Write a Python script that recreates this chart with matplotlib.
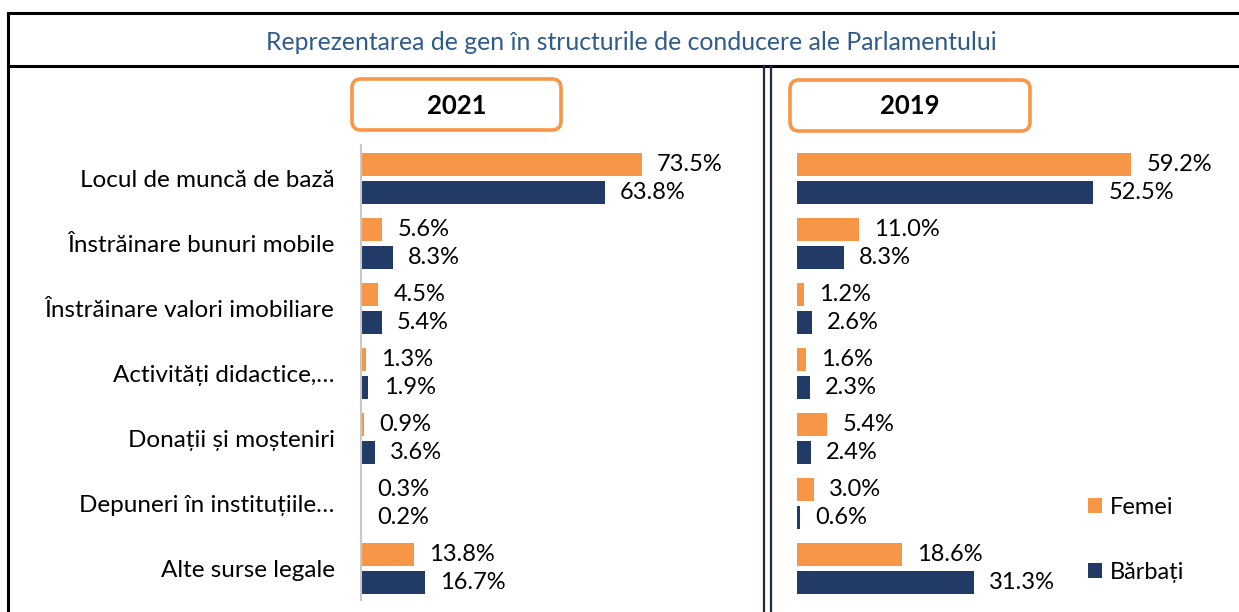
import numpy as np
import matplotlib
matplotlib.use("Agg")
import matplotlib.pyplot as plt
from matplotlib.patches import FancyBboxPatch

# -----------------------------
# Data
# -----------------------------
categories = [
    "Locul de muncă de bază",
    "Înstrăinare bunuri mobile",
    "Înstrăinare valori imobiliare",
    "Activități didactice,…",
    "Donații și moșteniri",
    "Depuneri în instituțiile…",
    "Alte surse legale",
]
femei_2021 = [73.5, 5.6, 4.5, 1.3, 0.9, 0.3, 13.8]
barbati_2021 = [63.8, 8.3, 5.4, 1.9, 3.6, 0.2, 16.7]
femei_2019 = [59.2, 11.0, 1.2, 1.6, 5.4, 3.0, 18.6]
barbati_2019 = [52.5, 8.3, 2.6, 2.3, 2.4, 0.6, 31.3]
series_names = ["Femei", "Bărbați"]
years = ["2021", "2019"]
title = "Reprezentarea de gen în structurile de conducere ale Parlamentului"

# -----------------------------
# Style
# -----------------------------
ORANGE = "#F79646"
NAVY = "#213A66"
TITLE_BLUE = "#2F5A8C"
plt.rcParams["font.family"] = ["Lato", "DejaVu Sans"]

W, H = 1239, 612
fig = plt.figure(figsize=(W / 100, H / 100), dpi=100)


def px_rect(x0, y0, x1, y1):
    # pixel box (top-left origin) -> figure fraction
    return [x0 / W, 1 - y1 / H, (x1 - x0) / W, (y1 - y0) / H]


# background axis in pixel coordinates for frame / boxes
bg = fig.add_axes([0, 0, 1, 1])
bg.set_xlim(0, W)
bg.set_ylim(H, 0)
bg.axis("off")

# outer frame and title row
bg.plot([8, W + 5], [13, 13], color="black", lw=2.2)
bg.plot([8, W + 5], [66, 66], color="black", lw=2.2)
bg.plot([8, 8], [13, H + 5], color="black", lw=2.2)
bg.plot([764, 764], [66, H + 5], color="#1F2A3C", lw=1.6)
bg.plot([771, 771], [66, H + 5], color="#1F2A3C", lw=1.6)
bg.text(631, 42, title, ha="center", va="center", fontsize=17.8, color=TITLE_BLUE)

# year boxes
for (x0, y0, x1, y1), yr in zip([(352, 79, 561, 130), (790, 80, 1030, 131)], years):
    box = FancyBboxPatch((x0, y0), x1 - x0, y1 - y0,
                         boxstyle="round,pad=0,rounding_size=9",
                         fc="white", ec=ORANGE, lw=2.6)
    bg.add_patch(box)
    bg.text((x0 + x1) / 2, (y0 + y1) / 2 + 1, yr, ha="center", va="center",
            fontsize=18.5, fontweight="bold", color="black")

# -----------------------------
# Bar panels
# -----------------------------
y = np.arange(len(categories))
bar_h = 0.354
off = 0.215

ax1 = fig.add_axes(px_rect(361, 145, 361 + 382, 600))
ax2 = fig.add_axes(px_rect(797, 145, 797 + 395, 600))

panels = [
    (ax1, femei_2021, barbati_2021, (0, 100)),
    (ax2, femei_2019, barbati_2019, (0, 70)),
]

handles = None
for ax, fem, bar, xlim in panels:
    b1 = ax.barh(y - off, fem, height=bar_h, color=ORANGE, label=series_names[0])
    b2 = ax.barh(y + off, bar, height=bar_h, color=NAVY, label=series_names[1])
    for b in (b1, b2):
        ax.bar_label(b, labels=[f"{v:.1f}%" for v in b.datavalues],
                     padding=11, fontsize=17, color="black")
    ax.set_xlim(*xlim)
    ax.set_ylim(6.49, -0.51)
    ax.set_xticks([])
    ax.patch.set_alpha(0)
    for s in ["top", "right", "bottom"]:
        ax.spines[s].set_visible(False)
    handles = [b1, b2]

ax1.spines["left"].set_color("#C8C8C8")
ax1.spines["left"].set_linewidth(1.5)
ax1.set_yticks(y)
ax1.set_yticklabels(categories, fontsize=17.5, color="black")
ax1.tick_params(axis="y", length=0, pad=19)

ax2.spines["left"].set_visible(False)
ax2.set_yticks([])

fig.legend(handles, series_names, loc="upper left",
           bbox_to_anchor=(1067 / W, 1 - 476 / H),
           frameon=False, fontsize=17, handlelength=0.6, handleheight=0.6,
           handletextpad=0.3, labelspacing=1.85)

plt.savefig("out.png", dpi=100)
